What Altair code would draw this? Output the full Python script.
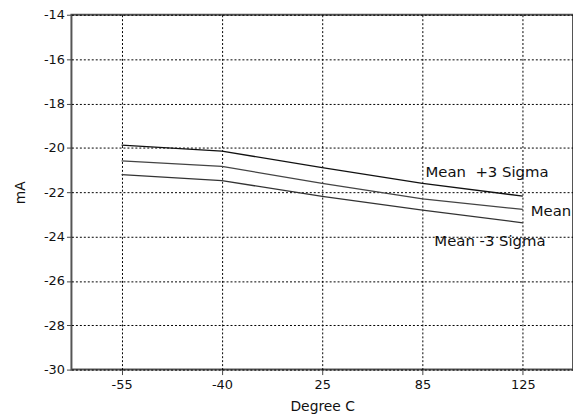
import altair as alt
import pandas as pd

temps = ["-55", "-40", "25", "85", "125"]
mean_plus = [-19.88, -20.15, -20.89, -21.6, -22.18]
mean_vals = [-20.59, -20.84, -21.6, -22.3, -22.78]
mean_minus = [-21.21, -21.48, -22.19, -22.81, -23.38]
series_names = ["Mean +3 Sigma", "Mean", "Mean -3 Sigma"]
label_texts = ["Mean\u00a0\u00a0+3 Sigma", "Mean", "Mean -3 Sigma"]
y_ticks = [-30, -28, -26, -24, -22, -20, -18, -16, -14]

rows = []
for name, vals in zip(series_names, [mean_plus, mean_vals, mean_minus]):
    for t, v in zip(temps, vals):
        rows.append({"temp": t, "value": v, "series": name})
df = pd.DataFrame(rows)

FONT = "DejaVu Sans"

x_enc = alt.X(
    "temp:O",
    sort=temps,
    scale=alt.Scale(type="point", padding=0.5),
    axis=alt.Axis(
        title="Degree C",
        labelAngle=0,
        grid=True,
        gridDash=[2, 2],
        gridColor="#000000",
        gridOpacity=1,
        domain=False,
        tickColor="#444444",
        tickSize=5,
        labelPadding=4,
        titlePadding=8,
        labelExpr="replace(datum.label, '\u2212', '-')",
    ),
)
y_enc = alt.Y(
    "value:Q",
    scale=alt.Scale(domain=[-30, -14], nice=False, zero=False),
    axis=alt.Axis(
        title="mA",
        values=y_ticks,
        grid=True,
        gridDash=[2, 2],
        gridColor="#000000",
        gridOpacity=1,
        domain=False,
        tickColor="#444444",
        tickSize=5,
        labelPadding=2,
        titlePadding=16,
        labelExpr="replace(datum.label, '\u2212', '-')",
    ),
)

lines = alt.Chart(df).mark_line(strokeWidth=1.3).encode(
    x=x_enc,
    y=y_enc,
    color=alt.Color(
        "series:N",
        scale=alt.Scale(domain=series_names, range=["#111111", "#444444", "#333333"]),
        legend=None,
    ),
    detail="series:N",
)

lab = pd.DataFrame({
    "temp": ["125"] * 3,
    "value": [mean_plus[-1], mean_vals[-1], mean_minus[-1]],
    "series": series_names,
    "text": label_texts,
})

def label(name, align, dx, dy):
    return alt.Chart(lab[lab.series == name]).mark_text(
        align=align, baseline="middle", dx=dx, dy=dy, font=FONT, fontSize=15, color="#111111"
    ).encode(x=alt.X("temp:O", sort=temps), y="value:Q", text="text:N")

chart = alt.layer(
    lines,
    label("Mean +3 Sigma", "right", 26, -24),
    label("Mean", "left", 8, 2),
    label("Mean -3 Sigma", "right", 23, 18),
).properties(
    width=506,
    height=358,
    autosize=alt.AutoSizeParams(type="none"),
    padding={"left": 64, "top": 5, "right": 0, "bottom": 45},
).configure_view(
    stroke="#555555", strokeWidth=2
).configure_axis(
    labelFont=FONT, titleFont=FONT, labelFontSize=13, titleFontSize=14,
    labelColor="#111111", titleColor="#111111", titleFontWeight="normal",
)

chart.save("out.html", embed_options={"renderer": "svg", "actions": False})
